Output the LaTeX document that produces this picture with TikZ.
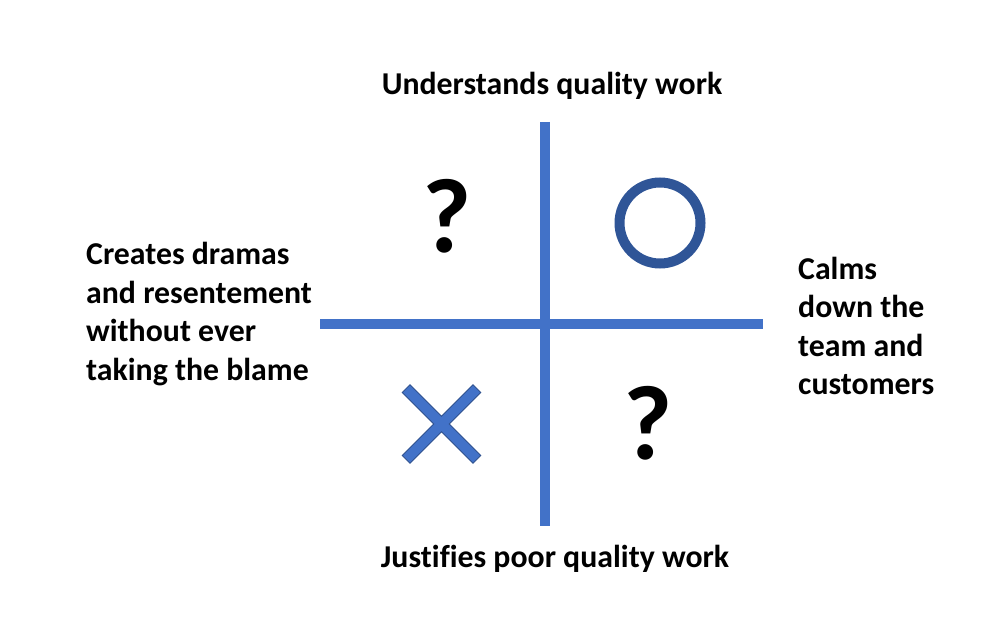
\documentclass[tikz,border=0pt]{standalone}
\usepackage{fontspec}
\setmainfont{Carlito}[Ligatures=NoCommon]
\usepackage{tikz}
\usetikzlibrary{positioning}

\definecolor{axisblue}{RGB}{66,114,200}
\definecolor{ringblue}{RGB}{47,85,151}
\definecolor{crossedge}{RGB}{47,82,143}

\tikzset{
  axisline/.style={axisblue,line width=10.5pt},
  sidelabel/.style={font=\fontsize{31.8}{38.5}\selectfont\bfseries,align=left,inner sep=0pt},
  endlabel/.style={font=\fontsize{31.8}{38}\selectfont\bfseries,inner sep=0pt},
  quadmark/.style={font=\fontsize{106}{110}\selectfont\bfseries,inner sep=0pt}
}

\begin{document}
\begin{tikzpicture}[x=1pt,y=-1pt]
  \useasboundingbox (0,0) rectangle (998,617);
  % axes
  \coordinate (top) at (545,122);
  \coordinate (bottom) at (545,526);
  \coordinate (left) at (320,324);
  \coordinate (right) at (763,324);
  \draw[axisline] (left) -- (right);
  \draw[axisline] (top) -- (bottom);
  % axis labels
  \node[endlabel] (understands) at (552,86) {Understands quality work};
  \node[endlabel] (justifies) at (555,559) {Justifies poor quality work};
  \node[sidelabel,anchor=west] (creates) at (86,314) {Creates dramas\\and resentement\\without ever\\taking the blame};
  \node[sidelabel,anchor=west] (calms) at (798,326) {Calms\\down the\\team and\\customers};
  % quadrants
  \node[quadmark] (qtopleft) at (447,216) {?};
  \node[quadmark] (qbottomright) at (648,423) {?};
  \draw[ringblue,line width=10pt] (660,223) circle[radius=40.5];
  \begin{scope}[shift={(441.5,424)},rotate=45]
    \filldraw[fill=axisblue,draw=crossedge,line width=0.8pt]
      (50,5.5) -- (5.5,5.5) -- (5.5,50) -- (-5.5,50) -- (-5.5,5.5) -- (-50,5.5)
      -- (-50,-5.5) -- (-5.5,-5.5) -- (-5.5,-50) -- (5.5,-50) -- (5.5,-5.5) -- (50,-5.5) -- cycle;
  \end{scope}
\end{tikzpicture}
\end{document}
